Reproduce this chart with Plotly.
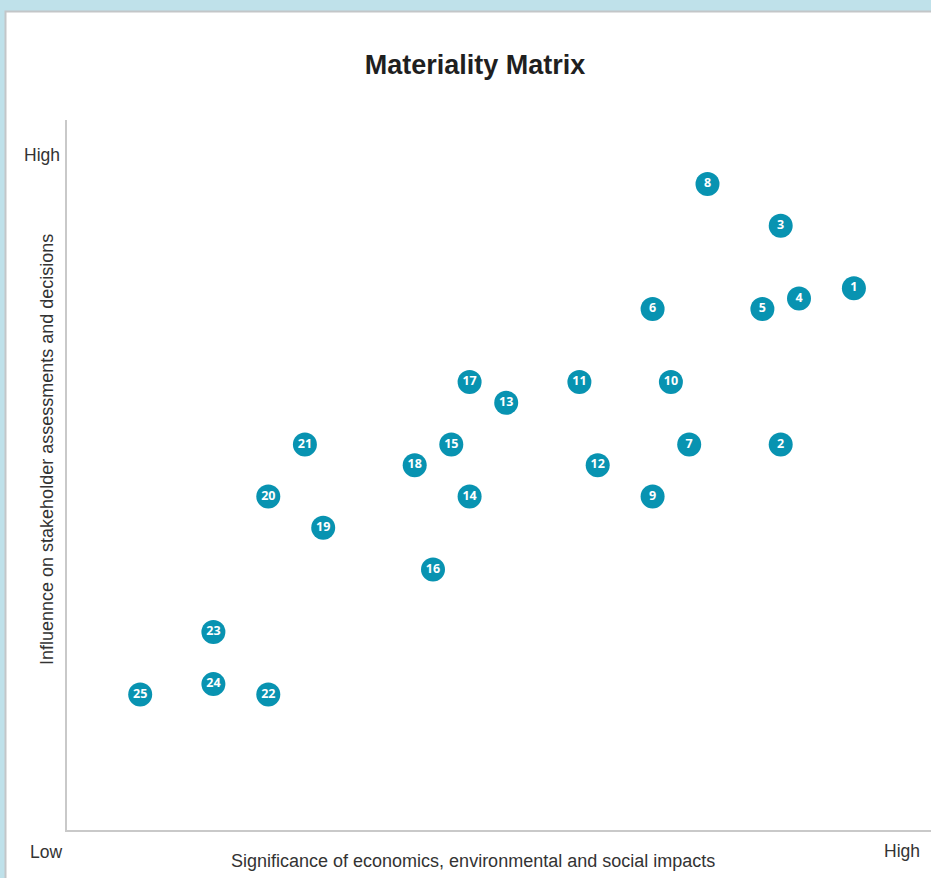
import plotly.graph_objects as go

# Material topics: id, significance of impacts (x), stakeholder influence (y)
topic_ids = [str(i) for i in range(1, 26)]
significance = [43, 39, 39, 40, 38, 32, 34, 35, 32, 33, 28, 29, 24,
                22, 21, 20, 22, 19, 14, 11, 13, 11, 8, 8, 4]
influence = [52, 37, 58, 51, 50, 50, 37, 62, 32, 43, 43, 35, 41,
             32, 37, 25, 43, 35, 29, 32, 37, 13, 19, 14, 13]

W, H = 931, 878
L, R, T, B = 67, 0, 120, 48
X_MAX = (W - L - R) / 18.3
Y_MAX = (H - T - B) / 10.42

TEAL = "#0893b1"
AXIS_GREY = "#c9c9c9"
TEXT = "#333333"
FONT = "Liberation Sans, Arial, sans-serif"

fig = go.Figure()
fig.add_trace(go.Scatter(
    x=significance,
    y=influence,
    mode="markers+text",
    text=topic_ids,
    textposition="middle center",
    textfont=dict(family="Open Sans", size=12.5, color="white", weight="bold"),
    marker=dict(size=24, color=TEAL, line=dict(width=0)),
    hoverinfo="skip",
    cliponaxis=False,
))

pw = W - L - R
ph = H - T - B

def px_x(p):
    return (p - L) / pw

def px_y(p):
    return (H - B - p) / ph

fig.update_layout(
    width=W,
    height=H,
    autosize=False,
    margin=dict(l=L, r=R, t=T, b=B, pad=0),
    paper_bgcolor="#bfe1ea",
    plot_bgcolor="white",
    showlegend=False,
    title=dict(
        text="<b>Materiality Matrix</b>",
        x=475 / W, xanchor="center",
        y=1 - 65 / H, yanchor="middle",
        font=dict(family=FONT, size=27, color="#1f1f1f"),
    ),
    xaxis=dict(
        range=[0, X_MAX], showgrid=False, zeroline=False,
        showticklabels=False, ticks="",
        showline=True, linecolor=AXIS_GREY, linewidth=2,
        fixedrange=True,
    ),
    yaxis=dict(
        range=[0, Y_MAX], showgrid=False, zeroline=False,
        showticklabels=False, ticks="",
        showline=True, linecolor=AXIS_GREY, linewidth=2,
        fixedrange=True,
    ),
    shapes=[
        # white card behind the chart
        dict(type="rect", xref="paper", yref="paper", layer="below",
             x0=px_x(5.5), x1=px_x(W + 20), y0=px_y(H + 20), y1=px_y(11.5),
             fillcolor="white", line=dict(color="#c3c6c8", width=2)),
    ],
    annotations=[
        dict(text="High", xref="paper", yref="paper",
             x=px_x(62), y=px_y(155), xanchor="right", yanchor="middle",
             showarrow=False, font=dict(family=FONT, size=17.5, color=TEXT)),
        dict(text="Low", xref="paper", yref="paper",
             x=px_x(46), y=px_y(852), xanchor="center", yanchor="middle",
             showarrow=False, font=dict(family=FONT, size=17.5, color=TEXT)),
        dict(text="High", xref="paper", yref="paper",
             x=px_x(902), y=px_y(851), xanchor="center", yanchor="middle",
             showarrow=False, font=dict(family=FONT, size=17.5, color=TEXT)),
        dict(text="Significance of economics, environmental and social impacts",
             xref="paper", yref="paper",
             x=px_x(473), y=px_y(861), xanchor="center", yanchor="middle",
             showarrow=False, font=dict(family=FONT, size=18, color=TEXT)),
        dict(text="Influennce on stakeholder assessments and decisions",
             xref="paper", yref="paper", textangle=-90,
             x=px_x(47), y=px_y(450), xanchor="center", yanchor="middle",
             showarrow=False, font=dict(family=FONT, size=18, color=TEXT)),
    ],
)

fig.write_html("out.html")
